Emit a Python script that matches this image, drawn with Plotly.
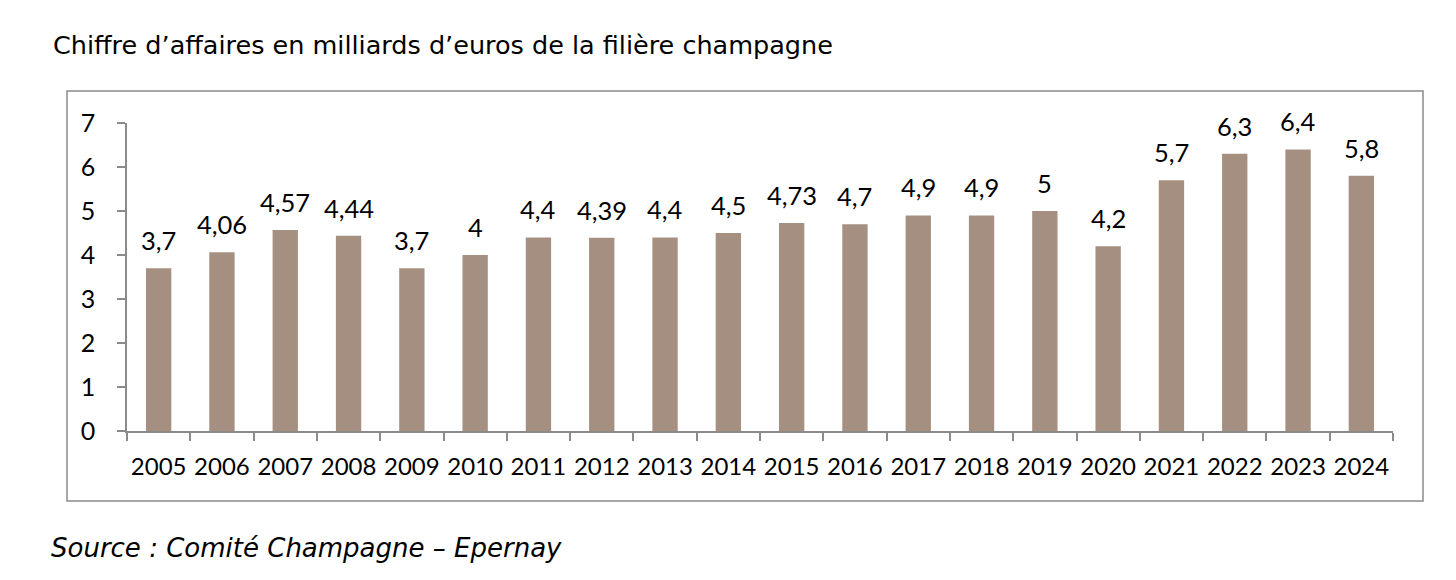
import plotly.graph_objects as go

years = [str(y) for y in range(2005, 2025)]
values = [3.7, 4.06, 4.57, 4.44, 3.7, 4, 4.4, 4.39, 4.4, 4.5, 4.73, 4.7, 4.9, 4.9, 5, 4.2, 5.7, 6.3, 6.4, 5.8]
labels = [f"{v:g}".replace(".", ",") for v in values]

title_text = "Chiffre d’affaires en milliards d’euros de la filière champagne"
source_text = "Source : Comité Champagne – Epernay"

bar_color = "#A58F81"
axis_color = "#8a8a8a"
xtick_font = dict(family="Lato", size=24, color="#000000")
ytick_font = dict(family="Lato", size=25, color="#000000")
label_font = dict(family="Lato", size=25.5, color="#000000")

fig = go.Figure()
fig.add_trace(go.Bar(x=years, y=values, marker=dict(color=bar_color, line=dict(width=0)),
                     width=0.4, hoverinfo="skip"))

for i, (v, t) in enumerate(zip(values, labels)):
    fig.add_annotation(x=i, y=v, text=t, showarrow=False, yanchor="bottom",
                       yshift=11, font=label_font)

W, H = 1456, 580
L, R, T, B = 127, 63, 123, 149
pw, ph = W - L - R, H - T - B

def px_x(x):
    return (x - L) / pw

def px_y(y):
    return (H - B - y) / ph

fig.add_shape(type="rect", xref="paper", yref="paper",
              x0=px_x(67), x1=px_x(1423), y0=px_y(501), y1=px_y(91),
              line=dict(color=axis_color, width=1.5), fillcolor="rgba(0,0,0,0)", layer="below")

fig.add_annotation(xref="paper", yref="paper", x=px_x(51), y=px_y(45), xanchor="left", yanchor="middle",
                   text=title_text, showarrow=False,
                   font=dict(family="DejaVu Sans", size=25.5, color="#000000"))
fig.add_annotation(xref="paper", yref="paper", x=px_x(49), y=px_y(548), xanchor="left", yanchor="middle",
                   text=f"<i>{source_text}</i>", showarrow=False,
                   font=dict(family="DejaVu Sans", size=26, color="#000000"))

fig.update_layout(
    width=W, height=H,
    margin=dict(l=L, r=R, t=T, b=B, pad=0),
    paper_bgcolor="white", plot_bgcolor="white",
    showlegend=False,
    xaxis=dict(type="category", showline=True, linecolor=axis_color, linewidth=1.5,
               ticks="outside", ticklen=8, tickcolor=axis_color, tickwidth=1.5,
               tickson="boundaries", showgrid=False, tickfont=xtick_font, tickangle=0,
               ticklabelstandoff=13, range=[-0.5, 19.5]),
    yaxis=dict(range=[0, 7], dtick=1, showline=True, linecolor=axis_color, linewidth=1.5,
               ticks="outside", ticklen=8, tickcolor=axis_color, tickwidth=1.5,
               showgrid=False, zeroline=False, tickfont=ytick_font, ticklabelstandoff=17),
)

fig.write_html("out.html", config={"displayModeBar": False},
               post_script="document.body.style.margin='0';")
